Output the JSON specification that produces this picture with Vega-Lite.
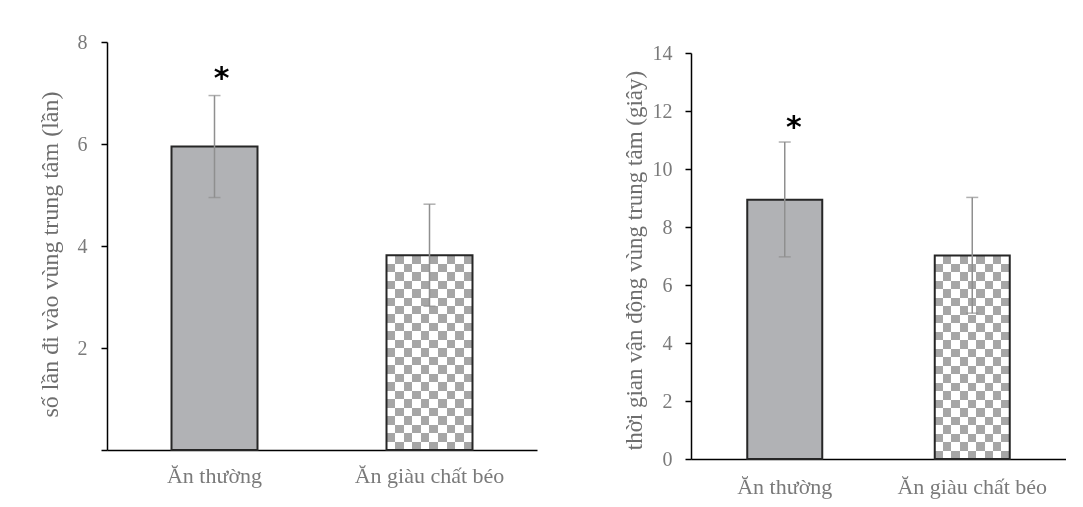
{
  "$schema": "https://vega.github.io/schema/vega-lite/v6.json",
  "background": "white",
  "padding": {"left": 38, "top": 32, "right": 0, "bottom": 12},
  "spacing": 86,
  "config": {
    "view": {"stroke": null},
    "axis": {"labelFont": "Liberation Serif", "titleFont": "Liberation Serif", "labelColor": "#7a7a7a", "titleColor": "#6e6e6e", "titleFontWeight": "normal", "domainColor": "#000000", "tickColor": "#000000", "grid": false}
  },
  "hconcat": [
    {
      "width": 430,
      "height": 408,
      "data": {"values": [
        {"diet": "Ăn thường", "mean": 5.95, "lo": 4.95, "hi": 6.95, "sig": "*"},
        {"diet": "Ăn giàu chất béo", "mean": 3.82, "lo": 2.82, "hi": 4.82, "sig": ""}
      ]},
      "encoding": {
        "x": {"field": "diet", "type": "nominal", "scale": {"domain": ["Ăn thường", "Ăn giàu chất béo"], "paddingInner": 0.6, "paddingOuter": 0.3},
              "axis": {"title": null, "labelAngle": 0, "ticks": false, "labelPadding": 15, "labelFontSize": 22, "domainWidth": 1.5}}
      },
      "layer": [
        {
          "transform": [{"filter": "datum.diet == 'Ăn thường'"}],
          "mark": {"type": "bar", "fill": "#b1b2b5"},
          "encoding": {"y": {"field": "mean", "type": "quantitative", "scale": {"domain": [0, 8], "nice": false},
            "axis": {"title": "số lần đi vào vùng trung tâm (lần)", "values": [0, 2, 4, 6, 8], "labelExpr": "datum.value == 0 ? '' : datum.label", "tickSize": 6, "labelPadding": 14, "labelFontSize": 20, "titleFontSize": 24, "titlePadding": 15, "titleY": 212, "domainWidth": 1.5, "tickWidth": 1.5}}}
        },
        {
          "transform": [{"filter": "datum.diet == 'Ăn giàu chất béo'"}],
          "mark": {"type": "bar", "fill": {"gradient": "linear", "x1": 0, "y1": 0, "x2": 0, "y2": 1, "stops": [
            {"offset": 0, "color": "#000000"}, {"offset": 0.043478, "color": "#000000"},
            {"offset": 0.043478, "color": "#595959"}, {"offset": 0.086957, "color": "#595959"},
            {"offset": 0.086957, "color": "#000000"}, {"offset": 0.130435, "color": "#000000"},
            {"offset": 0.130435, "color": "#595959"}, {"offset": 0.173913, "color": "#595959"},
            {"offset": 0.173913, "color": "#000000"}, {"offset": 0.217391, "color": "#000000"},
            {"offset": 0.217391, "color": "#595959"}, {"offset": 0.26087, "color": "#595959"},
            {"offset": 0.26087, "color": "#000000"}, {"offset": 0.304348, "color": "#000000"},
            {"offset": 0.304348, "color": "#595959"}, {"offset": 0.347826, "color": "#595959"},
            {"offset": 0.347826, "color": "#000000"}, {"offset": 0.391304, "color": "#000000"},
            {"offset": 0.391304, "color": "#595959"}, {"offset": 0.434783, "color": "#595959"},
            {"offset": 0.434783, "color": "#000000"}, {"offset": 0.478261, "color": "#000000"},
            {"offset": 0.478261, "color": "#595959"}, {"offset": 0.521739, "color": "#595959"},
            {"offset": 0.521739, "color": "#000000"}, {"offset": 0.565217, "color": "#000000"},
            {"offset": 0.565217, "color": "#595959"}, {"offset": 0.608696, "color": "#595959"},
            {"offset": 0.608696, "color": "#000000"}, {"offset": 0.652174, "color": "#000000"},
            {"offset": 0.652174, "color": "#595959"}, {"offset": 0.695652, "color": "#595959"},
            {"offset": 0.695652, "color": "#000000"}, {"offset": 0.73913, "color": "#000000"},
            {"offset": 0.73913, "color": "#595959"}, {"offset": 0.782609, "color": "#595959"},
            {"offset": 0.782609, "color": "#000000"}, {"offset": 0.826087, "color": "#000000"},
            {"offset": 0.826087, "color": "#595959"}, {"offset": 0.869565, "color": "#595959"},
            {"offset": 0.869565, "color": "#000000"}, {"offset": 0.913043, "color": "#000000"},
            {"offset": 0.913043, "color": "#595959"}, {"offset": 0.956522, "color": "#595959"},
            {"offset": 0.956522, "color": "#000000"}, {"offset": 1, "color": "#000000"}
          ]}},
          "encoding": {"y": {"field": "mean", "type": "quantitative"}}
        },
        {
          "transform": [{"filter": "datum.diet == 'Ăn giàu chất béo'"}],
          "mark": {"type": "bar", "blend": "difference", "fill": {"gradient": "linear", "x1": 0, "y1": 0, "x2": 1, "y2": 0, "stops": [
            {"offset": 0, "color": "#000000"}, {"offset": 0.1, "color": "#000000"},
            {"offset": 0.1, "color": "#595959"}, {"offset": 0.2, "color": "#595959"},
            {"offset": 0.2, "color": "#000000"}, {"offset": 0.3, "color": "#000000"},
            {"offset": 0.3, "color": "#595959"}, {"offset": 0.4, "color": "#595959"},
            {"offset": 0.4, "color": "#000000"}, {"offset": 0.5, "color": "#000000"},
            {"offset": 0.5, "color": "#595959"}, {"offset": 0.6, "color": "#595959"},
            {"offset": 0.6, "color": "#000000"}, {"offset": 0.7, "color": "#000000"},
            {"offset": 0.7, "color": "#595959"}, {"offset": 0.8, "color": "#595959"},
            {"offset": 0.8, "color": "#000000"}, {"offset": 0.9, "color": "#000000"},
            {"offset": 0.9, "color": "#595959"}, {"offset": 1, "color": "#595959"}
          ]}},
          "encoding": {"y": {"field": "mean", "type": "quantitative"}}
        },
        {
          "transform": [{"filter": "datum.diet == 'Ăn giàu chất béo'"}],
          "mark": {"type": "bar", "blend": "difference", "fill": "#ffffff"},
          "encoding": {"y": {"field": "mean", "type": "quantitative"}}
        },
        {
          "mark": {"type": "bar", "fill": "transparent", "stroke": "#262626", "strokeWidth": 2},
          "encoding": {"y": {"field": "mean", "type": "quantitative"}}
        },
        {
          "mark": {"type": "rule", "color": "#8f8f8f", "strokeWidth": 1.5},
          "encoding": {"y": {"field": "lo", "type": "quantitative"}, "y2": {"field": "hi"}}
        },
        {
          "mark": {"type": "tick", "color": "#8f8f8f", "size": 12, "thickness": 1.5},
          "encoding": {"y": {"field": "lo", "type": "quantitative"}}
        },
        {
          "mark": {"type": "tick", "color": "#8f8f8f", "size": 12, "thickness": 1.5},
          "encoding": {"y": {"field": "hi", "type": "quantitative"}}
        },
        {
          "mark": {"type": "text", "font": "DejaVu Sans", "fontWeight": "bold", "fontSize": 30, "baseline": "alphabetic", "align": "center", "dx": 7, "dy": -8, "color": "#000000"},
          "encoding": {"y": {"field": "hi", "type": "quantitative"}, "text": {"field": "sig"}}
        }
      ]
    },
    {
      "width": 375,
      "height": 417,
      "data": {"values": [
        {"diet": "Ăn thường", "mean": 8.94, "lo": 6.97, "hi": 10.93, "sig": "*"},
        {"diet": "Ăn giàu chất béo", "mean": 7.02, "lo": 5.03, "hi": 9.02, "sig": ""}
      ]},
      "encoding": {
        "x": {"field": "diet", "type": "nominal", "scale": {"domain": ["Ăn thường", "Ăn giàu chất béo"], "paddingInner": 0.6, "paddingOuter": 0.3},
              "axis": {"title": null, "labelAngle": 0, "ticks": false, "labelPadding": 17, "labelFontSize": 22, "domainWidth": 1.5}}
      },
      "layer": [
        {
          "transform": [{"filter": "datum.diet == 'Ăn thường'"}],
          "mark": {"type": "bar", "fill": "#b1b2b5"},
          "encoding": {"y": {"field": "mean", "type": "quantitative", "scale": {"domain": [0, 14], "nice": false, "range": [417, 11]},
            "axis": {"title": "thời gian vận động vùng trung tâm  (giây)", "values": [0, 2, 4, 6, 8, 10, 12, 14], "tickSize": 6, "labelPadding": 13, "labelFontSize": 20, "titleFontSize": 23, "titlePadding": 6, "titleY": 218, "domainWidth": 1.5, "tickWidth": 1.5}}}
        },
        {
          "transform": [{"filter": "datum.diet == 'Ăn giàu chất béo'"}],
          "mark": {"type": "bar", "fill": {"gradient": "linear", "x1": 0, "y1": 0, "x2": 0, "y2": 1, "stops": [
            {"offset": 0, "color": "#000000"}, {"offset": 0.041667, "color": "#000000"},
            {"offset": 0.041667, "color": "#595959"}, {"offset": 0.083333, "color": "#595959"},
            {"offset": 0.083333, "color": "#000000"}, {"offset": 0.125, "color": "#000000"},
            {"offset": 0.125, "color": "#595959"}, {"offset": 0.166667, "color": "#595959"},
            {"offset": 0.166667, "color": "#000000"}, {"offset": 0.208333, "color": "#000000"},
            {"offset": 0.208333, "color": "#595959"}, {"offset": 0.25, "color": "#595959"},
            {"offset": 0.25, "color": "#000000"}, {"offset": 0.291667, "color": "#000000"},
            {"offset": 0.291667, "color": "#595959"}, {"offset": 0.333333, "color": "#595959"},
            {"offset": 0.333333, "color": "#000000"}, {"offset": 0.375, "color": "#000000"},
            {"offset": 0.375, "color": "#595959"}, {"offset": 0.416667, "color": "#595959"},
            {"offset": 0.416667, "color": "#000000"}, {"offset": 0.458333, "color": "#000000"},
            {"offset": 0.458333, "color": "#595959"}, {"offset": 0.5, "color": "#595959"},
            {"offset": 0.5, "color": "#000000"}, {"offset": 0.541667, "color": "#000000"},
            {"offset": 0.541667, "color": "#595959"}, {"offset": 0.583333, "color": "#595959"},
            {"offset": 0.583333, "color": "#000000"}, {"offset": 0.625, "color": "#000000"},
            {"offset": 0.625, "color": "#595959"}, {"offset": 0.666667, "color": "#595959"},
            {"offset": 0.666667, "color": "#000000"}, {"offset": 0.708333, "color": "#000000"},
            {"offset": 0.708333, "color": "#595959"}, {"offset": 0.75, "color": "#595959"},
            {"offset": 0.75, "color": "#000000"}, {"offset": 0.791667, "color": "#000000"},
            {"offset": 0.791667, "color": "#595959"}, {"offset": 0.833333, "color": "#595959"},
            {"offset": 0.833333, "color": "#000000"}, {"offset": 0.875, "color": "#000000"},
            {"offset": 0.875, "color": "#595959"}, {"offset": 0.916667, "color": "#595959"},
            {"offset": 0.916667, "color": "#000000"}, {"offset": 0.958333, "color": "#000000"},
            {"offset": 0.958333, "color": "#595959"}, {"offset": 1, "color": "#595959"}
          ]}},
          "encoding": {"y": {"field": "mean", "type": "quantitative"}}
        },
        {
          "transform": [{"filter": "datum.diet == 'Ăn giàu chất béo'"}],
          "mark": {"type": "bar", "blend": "difference", "fill": {"gradient": "linear", "x1": 0, "y1": 0, "x2": 1, "y2": 0, "stops": [
            {"offset": 0, "color": "#000000"}, {"offset": 0.111111, "color": "#000000"},
            {"offset": 0.111111, "color": "#595959"}, {"offset": 0.222222, "color": "#595959"},
            {"offset": 0.222222, "color": "#000000"}, {"offset": 0.333333, "color": "#000000"},
            {"offset": 0.333333, "color": "#595959"}, {"offset": 0.444444, "color": "#595959"},
            {"offset": 0.444444, "color": "#000000"}, {"offset": 0.555556, "color": "#000000"},
            {"offset": 0.555556, "color": "#595959"}, {"offset": 0.666667, "color": "#595959"},
            {"offset": 0.666667, "color": "#000000"}, {"offset": 0.777778, "color": "#000000"},
            {"offset": 0.777778, "color": "#595959"}, {"offset": 0.888889, "color": "#595959"},
            {"offset": 0.888889, "color": "#000000"}, {"offset": 1, "color": "#000000"}
          ]}},
          "encoding": {"y": {"field": "mean", "type": "quantitative"}}
        },
        {
          "transform": [{"filter": "datum.diet == 'Ăn giàu chất béo'"}],
          "mark": {"type": "bar", "blend": "difference", "fill": "#ffffff"},
          "encoding": {"y": {"field": "mean", "type": "quantitative"}}
        },
        {
          "mark": {"type": "bar", "fill": "transparent", "stroke": "#262626", "strokeWidth": 2},
          "encoding": {"y": {"field": "mean", "type": "quantitative"}}
        },
        {
          "mark": {"type": "rule", "color": "#8f8f8f", "strokeWidth": 1.5},
          "encoding": {"y": {"field": "lo", "type": "quantitative"}, "y2": {"field": "hi"}}
        },
        {
          "mark": {"type": "tick", "color": "#8f8f8f", "size": 12, "thickness": 1.5},
          "encoding": {"y": {"field": "lo", "type": "quantitative"}}
        },
        {
          "mark": {"type": "tick", "color": "#8f8f8f", "size": 12, "thickness": 1.5},
          "encoding": {"y": {"field": "hi", "type": "quantitative"}}
        },
        {
          "mark": {"type": "text", "font": "DejaVu Sans", "fontWeight": "bold", "fontSize": 30, "baseline": "alphabetic", "align": "center", "dx": 9, "dy": -5, "color": "#000000"},
          "encoding": {"y": {"field": "hi", "type": "quantitative"}, "text": {"field": "sig"}}
        }
      ]
    }
  ]
}
